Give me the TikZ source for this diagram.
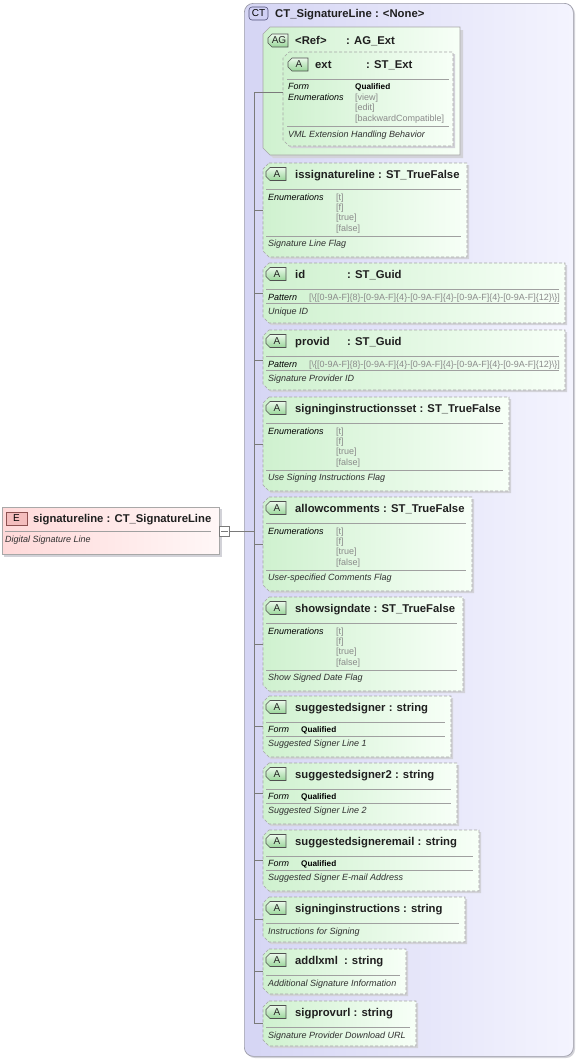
\documentclass[tikz,border=0pt]{standalone}
\usepackage{fontspec}
\setmainfont{Liberation Sans}
\definecolor{ctL}{HTML}{D5D5F4}
\definecolor{ctR}{HTML}{F4F4FE}
\definecolor{ctB}{HTML}{9C9CA8}
\definecolor{atL}{HTML}{CFF1CF}
\definecolor{atR}{HTML}{F7FFF7}
\definecolor{atB}{HTML}{A6A6A6}
\definecolor{shd}{HTML}{D2D2D8}
\definecolor{elL}{HTML}{FFD9D9}
\definecolor{elR}{HTML}{FFF7F7}
\definecolor{elB}{HTML}{A8A8A8}
\definecolor{bgT}{HTML}{EAF9EA}
\definecolor{bgB}{HTML}{9AD69A}
\definecolor{bdk}{HTML}{505050}
\definecolor{ebF}{HTML}{F4BDBD}
\definecolor{ebB}{HTML}{8C5050}
\definecolor{cbF}{HTML}{D0D0F4}
\definecolor{cbB}{HTML}{505078}
\definecolor{sepc}{HTML}{A0A0A0}
\definecolor{valc}{HTML}{8A8A8A}
\definecolor{dscc}{HTML}{303030}
\definecolor{linec}{HTML}{7A7A7A}
\newcounter{tn}
\newcommand\tx[4]{\stepcounter{tn}\node[#1] (t\arabic{tn}) at (#2,#3) {#4};}
\newcommand\guidpat{[\textbackslash\{[0-9A-F]\{8\}-[0-9A-F]\{4\}-[0-9A-F]\{4\}-[0-9A-F]\{4\}-[0-9A-F]\{12\}\textbackslash\}]}
\newcommand\abox[5]{%
 \fill[shd] (#2+8,#3+2) -- (#4+2,#3+2) -- (#4+2,#5+2) -- (#2+8,#5+2) -- (#2+2,#5-4) -- (#2+2,#3+8) -- cycle;
 \path[attrbox] (#2+6,#3) -- (#4,#3) -- (#4,#5) -- (#2+6,#5) -- (#2,#5-6) -- (#2,#3+6) -- cycle;
 \coordinate (#1) at (#2,{(#3+#5)/2});
}
\newcommand\abadge[3]{%
 \path[top color=bgT,bottom color=bgB,draw=bdk,line width=0.6pt] (#1+4,#2-6.5) -- (#1+20,#2-6.5) -- (#1+20,#2+6.5) -- (#1+4,#2+6.5) -- (#1,#2+2.5) -- (#1,#2-2.5) -- cycle;
 \stepcounter{tn}\node[badgetxt] (t\arabic{tn}) at (#1+11,#2) {#3};
}
\newcommand\enumrows[2]{%
 \tx{lbl}{#1}{#2}{Enumerations}
 \tx{val}{#1+68}{#2}{[t]}
 \tx{val}{#1+68}{#2+10}{[f]}
 \tx{val}{#1+68}{#2+20}{[true]}
 \tx{val}{#1+68}{#2+31}{[false]}
}
\newcommand\enumbox[5]{%
 \abox{#1}{263}{#2}{#3}{#2+94}
 \abadge{266}{#2+11}{A}
 \tx{ttl}{295}{#2+11}{#4}
 \draw[seprule] (266,#2+26) -- (#3-6,#2+26);
 \enumrows{268}{#2+34}
 \draw[seprule] (266,#2+73) -- (#3-6,#2+73);
 \tx{dsc}{268}{#2+80}{#5}
}
\newcommand\formbox[5]{%
 \abox{#1}{263}{#2}{#3}{#2+61}
 \abadge{266}{#2+11}{A}
 \tx{ttl}{295}{#2+11}{#4}
 \draw[seprule] (266,#2+26) -- (#3-6,#2+26);
 \tx{lbl}{268}{#2+33}{Form}
 \tx{qual}{301}{#2+33}{Qualified}
 \draw[seprule] (266,#2+40) -- (#3-6,#2+40);
 \tx{dsc}{268}{#2+47}{#5}
}
\newcommand\patbox[6]{%
 \abox{#1}{263}{#2}{#3}{#2+60}
 \abadge{266}{#2+11}{A}
 \tx{ttl}{295}{#2+11}{#4}
 \tx{ttl}{347}{#2+11}{#5}
 \draw[seprule] (266,#2+26) -- (#3-6,#2+26);
 \tx{lbl}{268}{#2+34}{Pattern}
 \tx{val}{309}{#2+34}{\guidpat}
 \draw[seprule] (266,#2+40) -- (#3-6,#2+40);
 \tx{dsc}{268}{#2+48}{#6}
}
\newcommand\descbox[5]{%
 \abox{#1}{263}{#2}{#3}{#2+45}
 \abadge{266}{#2+11}{A}
 \tx{ttl}{295}{#2+11}{#4}
 \draw[seprule] (266,#2+26) -- (#3-6,#2+26);
 \tx{dsc}{268}{#2+34}{#5}
}
\begin{document}
\begin{tikzpicture}[x=1pt,y=-1pt,
  txt/.style={anchor=base west,inner sep=0pt},
  ttl/.style={txt,font=\fontsize{11.3}{13}\selectfont\bfseries,text=black!88,yshift=-4pt},
  lbl/.style={txt,font=\fontsize{9}{11}\selectfont\itshape,text=black,yshift=-3.2pt},
  val/.style={txt,font=\fontsize{9}{11}\selectfont,text=valc,yshift=-3.2pt},
  qual/.style={txt,font=\fontsize{8.2}{10}\selectfont\bfseries,text=black,yshift=-3pt},
  dsc/.style={txt,font=\fontsize{9}{11}\selectfont\itshape,text=dscc,yshift=-3.2pt},
  seprule/.style={draw=sepc,line width=0.6pt},
  conn/.style={draw=linec,line width=0.6pt},
  attrbox/.style={left color=atL,right color=atR,draw=atB,line width=0.6pt,dash pattern=on 3pt off 2pt},
  badgetxt/.style={inner sep=0pt,font=\fontsize{10}{12}\selectfont,text=black!85}
]
\useasboundingbox (0,0) rectangle (577,1060);
% complex type container
\fill[shd,rounded corners=9pt] (246,5) rectangle (575,1058);
\node[left color=ctL,right color=ctR,draw=ctB,line width=0.7pt,rounded corners=9pt,
      anchor=north west,minimum width=329pt,minimum height=1053pt,inner sep=0pt] (ct) at (244,3) {};
\node[fill=cbF,draw=cbB,line width=0.6pt,rounded corners=3pt,minimum width=19pt,minimum height=13pt,
      inner sep=0pt,font=\fontsize{10}{12}\selectfont] (ctbadge) at (258.5,13.5) {CT};
\tx{ttl}{275}{13.5}{CT\_SignatureLine : <None>}
% element
\fill[shd] (4,509) rectangle (222,557);
\node[left color=elL,right color=elR,draw=elB,line width=0.6pt,anchor=north west,
      minimum width=217pt,minimum height=47pt,inner sep=0pt] (elem) at (2,507) {};
\node[fill=ebF,draw=ebB,line width=0.6pt,minimum width=21pt,minimum height=13pt,inner sep=0pt,
      font=\fontsize{10}{12}\selectfont] (ebadge) at (16.5,518.5) {E};
\tx{ttl}{33}{518.5}{signatureline : CT\_SignatureLine}
\draw[seprule] (5,531.5) -- (211,531.5);
\tx{dsc}{5}{539.5}{Digital Signature Line}
\node[draw=linec,fill=white,line width=0.6pt,minimum size=10pt,inner sep=0pt,anchor=west] (minus) at (219,531) {};
\draw[conn] ([xshift=2pt]minus.west) -- ([xshift=-2pt]minus.east);
% attribute group
\fill[shd] (263+10,30) -- (463,30) -- (463,158) -- (263+10,158) -- (266,151) -- (266,37) -- cycle;
\path[left color=atL,right color=atR,draw=atB,line width=0.6pt] (263+7,27) -- (460,27) -- (460,155) -- (263+7,155) -- (263,148) -- (263,34) -- cycle;
\abadge{268}{40.5}{AG}
\tx{ttl}{295}{40.5}{<Ref>}
\tx{ttl}{346}{40.5}{: AG\_Ext}
\abox{extbox}{283}{52}{453}{146}
\coordinate (ag) at (283,92);
\abadge{288}{64.5}{A}
\tx{ttl}{315}{64.5}{ext}
\tx{ttl}{366}{64.5}{: ST\_Ext}
\draw[seprule] (287,79.5) -- (449,79.5);
\tx{lbl}{288}{86.5}{Form}
\tx{qual}{355}{86.5}{Qualified}
\tx{lbl}{288}{97}{Enumerations}
\tx{val}{355}{97}{[view]}
\tx{val}{355}{107.5}{[edit]}
\tx{val}{355}{118}{[backwardCompatible]}
\draw[seprule] (287,126) -- (449,126);
\tx{dsc}{288}{134}{VML Extension Handling Behavior}
% attributes
\enumbox{b1}{163}{467}{issignatureline : ST\_TrueFalse}{Signature Line Flag}
\patbox{b2}{263}{565}{id}{: ST\_Guid}{Unique ID}
\patbox{b3}{330}{565}{provid}{: ST\_Guid}{Signature Provider ID}
\enumbox{b4}{397}{509}{signinginstructionsset : ST\_TrueFalse}{Use Signing Instructions Flag}
\enumbox{b5}{497}{472}{allowcomments : ST\_TrueFalse}{User-specified Comments Flag}
\enumbox{b6}{597}{463}{showsigndate : ST\_TrueFalse}{Show Signed Date Flag}
\formbox{b7}{696}{451}{suggestedsigner : string}{Suggested Signer Line 1}
\formbox{b8}{763}{457}{suggestedsigner2 : string}{Suggested Signer Line 2}
\formbox{b9}{830}{479}{suggestedsigneremail : string}{Suggested Signer E-mail Address}
\descbox{b10}{897}{465}{signinginstructions : string}{Instructions for Signing}
\descbox{b11}{949}{406}{addlxml\hspace{3pt} : string}{Additional Signature Information}
\descbox{b12}{1001}{416}{sigprovurl : string}{Signature Provider Download URL}
% connectors
\coordinate (spineTop) at (254,92);
\coordinate (spineBot) at (spineTop |- b12);
\draw[conn] (spineTop) -- (spineBot);
\draw[conn] (spineTop) -- (ag);
\foreach \b in {b1,b2,b3,b4,b5,b6,b7,b8,b9,b10,b11,b12} \draw[conn] (spineTop |- \b) -- (\b);
\draw[conn] (minus.east) -- (spineTop |- minus);
\end{tikzpicture}
\end{document}
